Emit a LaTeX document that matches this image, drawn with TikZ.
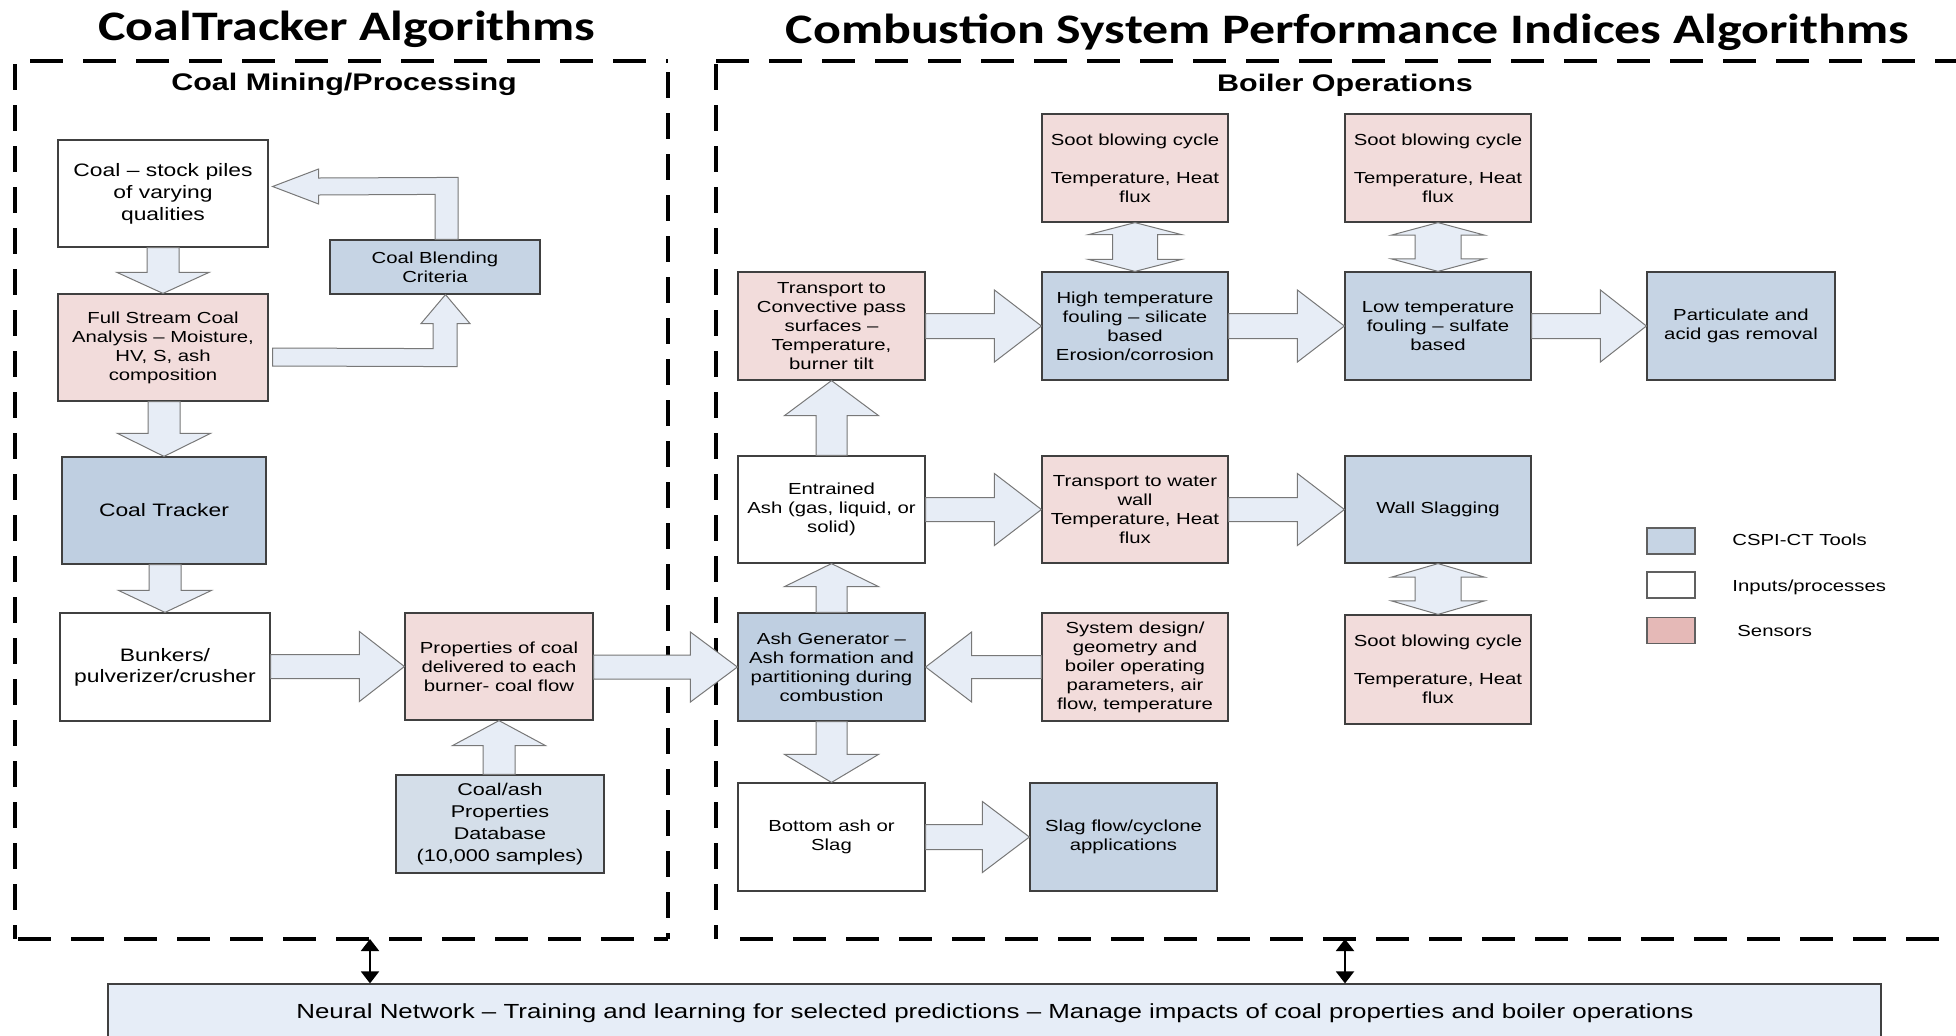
\documentclass[tikz,border=0pt]{standalone}
\usepackage{fontspec}
\setmainfont{Liberation Sans}[FakeStretch=1.27]
\newfontfamily\tfont{Carlito}[FakeStretch=1.235]
\usetikzlibrary{calc,arrows.meta}
\definecolor{toolblue}{RGB}{198,212,228}
\definecolor{trackblue}{RGB}{191,207,225}
\definecolor{dbblue}{RGB}{212,222,233}
\definecolor{sensorpink}{RGB}{242,220,219}
\definecolor{legendpink}{RGB}{229,185,183}
\definecolor{arrowfill}{RGB}{231,237,246}
\definecolor{nnfill}{RGB}{230,237,247}
\definecolor{boxedge}{RGB}{64,64,64}
\definecolor{legendedge}{RGB}{96,96,96}
\definecolor{arrowedge}{RGB}{120,120,120}
% horizontal block arrow: start anchor, tip anchor, shaft half, head half, head length (px, signed)
\newcommand\hba[5]{\path[barrow] let \p1=(#1),\p2=(#2),\n1={(#5)*0.5pt},\n2={(#3)*0.5pt},\n3={(#4)*0.5pt} in
 (\x1,{\y2+\n2}) -- ({\x2-\n1},{\y2+\n2}) -- ({\x2-\n1},{\y2+\n3}) -- (\x2,\y2)
 -- ({\x2-\n1},{\y2-\n3}) -- ({\x2-\n1},{\y2-\n2}) -- (\x1,{\y2-\n2}) -- cycle;}
% vertical block arrow (length positive = pointing up)
\newcommand\vba[5]{\path[barrow] let \p1=(#1),\p2=(#2),\n1={(#5)*0.5pt},\n2={(#3)*0.5pt},\n3={(#4)*0.5pt} in
 ({\x2+\n2},\y1) -- ({\x2+\n2},{\y2-\n1}) -- ({\x2+\n3},{\y2-\n1}) -- (\x2,\y2)
 -- ({\x2-\n3},{\y2-\n1}) -- ({\x2-\n2},{\y2-\n1}) -- ({\x2-\n2},\y1) -- cycle;}
% vertical double block arrow: top anchor, bottom anchor, shaft half, head half, head length
\newcommand\dba[5]{\path[barrow] let \p1=(#1),\p2=(#2),\n1={(#5)*0.5pt},\n2={(#3)*0.5pt},\n3={(#4)*0.5pt} in
 (\x1,\y1) -- ({\x1+\n3},{\y1-\n1}) -- ({\x1+\n2},{\y1-\n1}) -- ({\x1+\n2},{\y2+\n1})
 -- ({\x1+\n3},{\y2+\n1}) -- (\x1,\y2) -- ({\x1-\n3},{\y2+\n1}) -- ({\x1-\n2},{\y2+\n1})
 -- ({\x1-\n2},{\y1-\n1}) -- ({\x1-\n3},{\y1-\n1}) -- cycle;}
\begin{document}
\begin{tikzpicture}[x=0.5pt,y=-0.5pt,
  box/.style={draw=boxedge, line width=0.6pt, inner sep=0pt, align=center, font=\fontsize{8}{9.5}\selectfont},
  tool/.style={box, fill=toolblue},
  sensor/.style={box, fill=sensorpink},
  proc/.style={box, fill=white},
  dbbox/.style={box, fill=dbblue},
  lgbox/.style={draw=legendedge, line width=0.9pt, minimum width=24pt, minimum height=13pt, inner sep=0pt},
  lgtext/.style={anchor=base west, inner sep=0pt, font=\fontsize{8}{9.5}\selectfont},
  barrow/.style={draw=arrowedge, fill=arrowfill, line width=0.5pt, line join=miter},
  hdash/.style={line width=1.6pt, dash pattern=on 16.5pt off 10pt},
  vdash/.style={line width=1.7pt, dash pattern=on 13pt off 7.5pt},
  dblarr/.style={line width=1pt, {Triangle[width=9pt,length=6pt]}-{Triangle[width=9pt,length=6pt]}},
  titletext/.style={anchor=base, inner sep=0pt, font={\tfont\bfseries\fontsize{21}{25}\selectfont}},
  subtext/.style={anchor=base, inner sep=0pt, font={\bfseries\fontsize{12}{14}\selectfont}}]
\useasboundingbox (0,0) rectangle (1956,1035);
\clip (0,0) rectangle (1956,1035);

% titles
\node[titletext] (t1) at (347,40) {CoalTracker Algorithms};
\node[titletext] (t2) at (1347.5,43) {Combustion System Performance Indices Algorithms};
\node[subtext] (s1) at (344,90) {Coal Mining/Processing};
\node[subtext] (s2) at (1345,91) {Boiler Operations};

% dashed frames
\draw[hdash] (30,61) -- (668,61);
\draw[hdash] (18,939) -- (668,939);
\draw[vdash] (15,64) -- (15,939);
\draw[vdash] (668,72) -- (668,939);
\draw[hdash] (716,61) -- (1970,61);
\draw[hdash] (740,939) -- (1970,939);
\draw[vdash] (716,64) -- (716,939);

% left column nodes
\node[proc, minimum width=105pt, minimum height=53.5pt, font=\fontsize{9}{11}\selectfont] (stock) at (163,193.5) {Coal – stock piles\\of varying\\qualities};
\node[tool, minimum width=105pt, minimum height=27pt] (blend) at (435,267) {Coal Blending\\Criteria};
\node[sensor, minimum width=105pt, minimum height=53.5pt] (full) at (163,347.5) {Full Stream Coal\\Analysis – Moisture,\\HV, S, ash\\composition};
\node[box, fill=trackblue, minimum width=102pt, minimum height=53.5pt, font=\fontsize{9}{11}\selectfont] (tracker) at (164,510.5) {Coal Tracker};
\node[proc, minimum width=105pt, minimum height=54pt, font=\fontsize{9}{10.5}\selectfont] (bunk) at (165,667) {Bunkers/\\pulverizer/crusher};
\node[sensor, minimum width=94pt, minimum height=53.5pt] (prop) at (499,666.5) {Properties of coal\\delivered to each\\burner- coal flow};
\node[dbbox, minimum width=104pt, minimum height=49pt, font=\fontsize{8.5}{11}\selectfont] (db) at (500,824) {Coal/ash\\Properties\\Database\\(10,000 samples)};

% right nodes
\node[sensor, minimum width=93.5pt, minimum height=54pt] (conv) at (831.5,326) {Transport to\\Convective pass\\surfaces –\\Temperature,\\burner tilt};
\node[proc, minimum width=93.5pt, minimum height=53.5pt] (entr) at (831.5,509.5) {Entrained\\Ash (gas, liquid, or\\solid)};
\node[box, fill=trackblue, minimum width=93.5pt, minimum height=54pt] (ash) at (831.5,667) {Ash Generator –\\Ash formation and\\partitioning during\\combustion};
\node[proc, minimum width=93.5pt, minimum height=54pt] (bottom) at (831.5,837) {Bottom ash or\\Slag};
\node[tool, minimum width=93.5pt, minimum height=54pt] (slag) at (1123.5,837) {Slag flow/cyclone\\applications};

\node[sensor, minimum width=93pt, minimum height=54pt] (soot1) at (1135,168) {Soot blowing cycle\\[9.5pt]Temperature, Heat\\flux};
\node[tool, minimum width=93pt, minimum height=54pt] (high) at (1135,326) {High temperature\\fouling – silicate\\based\\Erosion/corrosion};
\node[sensor, minimum width=93pt, minimum height=53.5pt] (water) at (1135,509.5) {Transport to water\\wall\\Temperature, Heat\\flux};
\node[sensor, minimum width=93pt, minimum height=54pt] (sys) at (1135,667) {System design/\\geometry and\\boiler operating\\parameters, air\\flow, temperature};

\node[sensor, minimum width=93pt, minimum height=54pt] (soot2) at (1438,168) {Soot blowing cycle\\[9.5pt]Temperature, Heat\\flux};
\node[tool, minimum width=93pt, minimum height=54pt] (low) at (1438,326) {Low temperature\\fouling – sulfate\\based};
\node[tool, minimum width=93pt, minimum height=53.5pt] (wall) at (1438,509.5) {Wall Slagging};
\node[sensor, minimum width=93pt, minimum height=54.5pt] (soot3) at (1438,669.5) {Soot blowing cycle\\[9.5pt]Temperature, Heat\\flux};

\node[tool, minimum width=94pt, minimum height=54pt] (part) at (1741,326) {Particulate and\\acid gas removal};

% legend
\node[lgbox, fill=toolblue] (lg1) at (1671,541) {};
\node[lgbox, fill=white] (lg2) at (1671,585) {};
\node[lgbox, fill=legendpink] (lg3) at (1671,630.5) {};
\node[lgtext] (lt1) at (1732,545) {CSPI-CT Tools};
\node[lgtext] (lt2) at (1732,591) {Inputs/processes};
\node[lgtext] (lt3) at (1737,636) {Sensors};

% neural network
\node[draw=boxedge, fill=nnfill, line width=0.6pt, minimum width=886.5pt, minimum height=30pt, inner sep=0pt] (nn) at (994.5,1014) {};
\node[anchor=base, inner sep=0pt, font=\fontsize{10.2}{12}\selectfont] (nntext) at (995,1018) {Neural Network – Training and learning for selected predictions – Manage impacts of coal properties and boiler operations};
\coordinate (d1) at (370,939);
\coordinate (d2) at (1345,939);
\draw[dblarr] (d1) -- (d1 |- nn.north);
\draw[dblarr] (d2) -- (d2 |- nn.north);

% block arrows, left
\vba{stock.south}{full.north}{16}{46}{-21}
\vba{full.south}{tracker.north}{16}{46.5}{-23}
\vba{tracker.south}{bunk.north}{16}{46.5}{-22}
\hba{bunk.east}{prop.west}{12}{35}{45}
\vba{db.north}{prop.south}{16}{46.5}{25}
\hba{prop.east}{ash.west}{12}{35}{47}
% L arrow: full stream -> blending
\path[barrow] ($(full.east)+(4,0.5)$) -- ($(blend.south)+(-2,54)$) -- ($(blend.south)+(-2,29)$)
  -- ($(blend.south)+(-14,29)$) -- ($(blend.south)+(10.5,0)$) -- ($(blend.south)+(35,29)$)
  -- ($(blend.south)+(22,29)$) -- ($(blend.south)+(22,72)$) -- ($(full.east)+(4,18.5)$) -- cycle;
% L arrow: blending -> stock piles
\path[barrow] (blend.north) -- ($(blend.north)+(0,-45)$) -- ($(stock.east)+(50,1.5)$)
  -- ($(stock.east)+(50,10.5)$) -- ($(stock.east)+(4,-7)$) -- ($(stock.east)+(50,-24.5)$)
  -- ($(stock.east)+(50,-15.5)$) -- ($(blend.north)+(23,-62)$) -- ($(blend.north)+(23,0)$) -- cycle;

% block arrows, right
\vba{ash.north}{entr.south}{15.5}{47}{23}
\vba{entr.north}{conv.south}{15.5}{47}{35}
\vba{ash.south}{bottom.north}{15.5}{47}{-28}
\hba{conv.east}{high.west}{12.5}{36}{47}
\hba{high.east}{low.west}{12.5}{36}{47}
\hba{low.east}{part.west}{12.5}{36}{46}
\hba{entr.east}{water.west}{12}{36}{47}
\hba{water.east}{wall.west}{12}{36}{47}
\hba{sys.west}{ash.east}{11.5}{35}{-46}
\hba{bottom.east}{slag.west}{12.5}{35.5}{47}
\dba{soot1.south}{high.north}{22.5}{46.5}{12}
\dba{soot2.south}{low.north}{23}{46.5}{12.5}
\dba{wall.south}{soot3.north}{23}{46.5}{13.5}
\end{tikzpicture}
\end{document}
